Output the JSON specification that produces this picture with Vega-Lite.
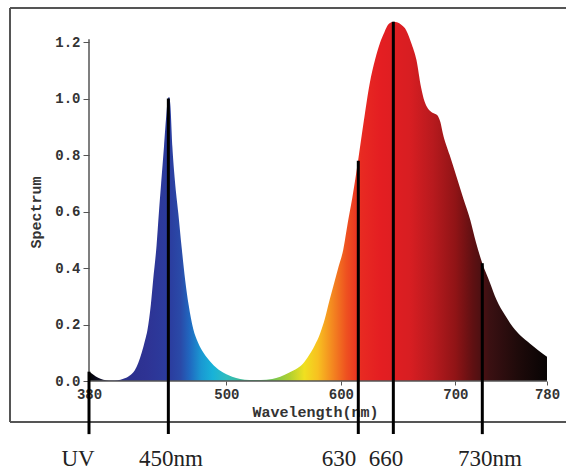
{
  "$schema": "https://vega.github.io/schema/vega-lite/v6.json",
  "width": 556,
  "height": 414,
  "autosize": "none",
  "padding": {"left": 10, "top": 8, "right": 1, "bottom": 48},
  "background": "white",
  "config": {"view": {"stroke": null}},
  "datasets": {
    "spectrum": [
      {"nm": 380, "v": 0.033}, {"nm": 383, "v": 0.025}, {"nm": 386, "v": 0.016}, {"nm": 390, "v": 0.008},
      {"nm": 395, "v": 0.003}, {"nm": 400, "v": 0.002}, {"nm": 405, "v": 0.003}, {"nm": 410, "v": 0.008},
      {"nm": 415, "v": 0.018}, {"nm": 420, "v": 0.038}, {"nm": 423, "v": 0.064}, {"nm": 426, "v": 0.1},
      {"nm": 429, "v": 0.145}, {"nm": 431, "v": 0.18}, {"nm": 434, "v": 0.27}, {"nm": 436, "v": 0.357},
      {"nm": 439, "v": 0.48}, {"nm": 441, "v": 0.594}, {"nm": 443, "v": 0.7}, {"nm": 445.5, "v": 0.83},
      {"nm": 447.5, "v": 0.94}, {"nm": 449, "v": 1.0}, {"nm": 450, "v": 1.005}, {"nm": 451, "v": 0.98},
      {"nm": 452.8, "v": 0.83}, {"nm": 455, "v": 0.71}, {"nm": 458, "v": 0.594}, {"nm": 461, "v": 0.47},
      {"nm": 464, "v": 0.357}, {"nm": 467, "v": 0.27}, {"nm": 471, "v": 0.185}, {"nm": 475, "v": 0.138},
      {"nm": 480, "v": 0.1}, {"nm": 487, "v": 0.064}, {"nm": 495, "v": 0.035}, {"nm": 505, "v": 0.015},
      {"nm": 512, "v": 0.007}, {"nm": 520, "v": 0.004}, {"nm": 530, "v": 0.004},
      {"nm": 540, "v": 0.007}, {"nm": 547, "v": 0.015}, {"nm": 555, "v": 0.03}, {"nm": 562, "v": 0.045},
      {"nm": 567, "v": 0.062}, {"nm": 572, "v": 0.09}, {"nm": 577, "v": 0.125}, {"nm": 582, "v": 0.17},
      {"nm": 586, "v": 0.22}, {"nm": 590, "v": 0.285}, {"nm": 594, "v": 0.345}, {"nm": 598, "v": 0.405},
      {"nm": 602, "v": 0.464}, {"nm": 606, "v": 0.56}, {"nm": 610, "v": 0.65}, {"nm": 615, "v": 0.78},
      {"nm": 620, "v": 0.92}, {"nm": 625, "v": 1.05}, {"nm": 630, "v": 1.14}, {"nm": 634, "v": 1.195},
      {"nm": 638, "v": 1.235}, {"nm": 641, "v": 1.26}, {"nm": 644, "v": 1.27}, {"nm": 646, "v": 1.272},
      {"nm": 649, "v": 1.27}, {"nm": 653, "v": 1.26}, {"nm": 657, "v": 1.242}, {"nm": 662, "v": 1.19},
      {"nm": 666, "v": 1.136}, {"nm": 670, "v": 1.04}, {"nm": 673, "v": 0.99}, {"nm": 676, "v": 0.965},
      {"nm": 680, "v": 0.95}, {"nm": 684, "v": 0.942}, {"nm": 687, "v": 0.915}, {"nm": 689, "v": 0.877},
      {"nm": 695, "v": 0.8}, {"nm": 701, "v": 0.723}, {"nm": 707, "v": 0.645}, {"nm": 713, "v": 0.57},
      {"nm": 718, "v": 0.49}, {"nm": 723.5, "v": 0.417}, {"nm": 730, "v": 0.35}, {"nm": 736, "v": 0.287},
      {"nm": 743, "v": 0.235}, {"nm": 750, "v": 0.192}, {"nm": 757, "v": 0.16}, {"nm": 765, "v": 0.133},
      {"nm": 772, "v": 0.11}, {"nm": 780, "v": 0.086}
    ],
    "markers": [
      {"pos": 380, "top": 0.033, "label": "UV", "labelPos": 370.4},
      {"pos": 449.3, "top": 1.0, "label": "450nm", "labelPos": 451.6},
      {"pos": 615.2, "top": 0.78, "label": "630", "labelPos": 598.3},
      {"pos": 645.8, "top": 1.272, "label": "660", "labelPos": 639.4},
      {"pos": 723.5, "top": 0.417, "label": "730nm", "labelPos": 730.2}
    ],
    "one": [{"k": 1}]
  },
  "layer": [
    {
      "data": {"name": "spectrum"},
      "mark": {
        "type": "area",
        "interpolate": "monotone",
        "fill": {
          "gradient": "linear", "x1": 0, "y1": 0, "x2": 1, "y2": 0,
          "stops": [
            {"offset": 0, "color": "#000000"},
            {"offset": 0.0375, "color": "#1a1a40"},
            {"offset": 0.0625, "color": "#2a2f8a"},
            {"offset": 0.125, "color": "#2e3394"},
            {"offset": 0.175, "color": "#2b3c9e"},
            {"offset": 0.2, "color": "#2a4aa8"},
            {"offset": 0.22, "color": "#2068c0"},
            {"offset": 0.245, "color": "#1a98d2"},
            {"offset": 0.27, "color": "#18b2d8"},
            {"offset": 0.3, "color": "#30bcc0"},
            {"offset": 0.3375, "color": "#3cb890"},
            {"offset": 0.3875, "color": "#60c060"},
            {"offset": 0.4375, "color": "#b0d030"},
            {"offset": 0.47, "color": "#f0e020"},
            {"offset": 0.5, "color": "#f8c020"},
            {"offset": 0.53, "color": "#f48a20"},
            {"offset": 0.5625, "color": "#ee5020"},
            {"offset": 0.595, "color": "#e82a22"},
            {"offset": 0.6375, "color": "#e41e22"},
            {"offset": 0.7, "color": "#d81e22"},
            {"offset": 0.75, "color": "#b81a1e"},
            {"offset": 0.8, "color": "#901416"},
            {"offset": 0.8375, "color": "#601012"},
            {"offset": 0.875, "color": "#3a1012"},
            {"offset": 0.9375, "color": "#1e0a0a"},
            {"offset": 1, "color": "#080404"}
          ]
        }
      },
      "encoding": {
        "x": {
          "field": "nm", "type": "quantitative",
          "scale": {"domain": [311.0, 796.6], "nice": false, "zero": false},
          "axis": {
            "values": [380, 500, 600, 700, 780],
            "offset": -41, "domain": false, "grid": false,
            "tickSize": 4, "tickColor": "#555",
            "labelFont": "Liberation Mono", "labelFontWeight": "bold", "labelFontSize": 14, "labelColor": "#333",
            "labelPadding": 2, "labelFlush": false, "labelOverlap": false,
            "title": "Wavelength(nm)",
            "titleFont": "Liberation Mono", "titleFontWeight": "bold", "titleFontSize": 15, "titleColor": "#333",
            "titleX": 305, "titleY": 30, "titleBaseline": "middle", "titleAlign": "center"
          }
        },
        "y": {
          "field": "v", "type": "quantitative",
          "scale": {"domain": [-0.1451, 1.3204], "nice": false, "zero": false},
          "axis": {
            "values": [0, 0.2, 0.4, 0.6, 0.8, 1.0, 1.2],
            "format": ".1f",
            "offset": -79, "domain": false, "grid": false,
            "tickSize": 6, "tickColor": "#555",
            "labelFont": "Liberation Mono", "labelFontWeight": "bold", "labelFontSize": 14, "labelColor": "#333",
            "labelPadding": 3,
            "title": "Spectrum",
            "titleFont": "Liberation Mono", "titleFontWeight": "bold", "titleFontSize": 15, "titleColor": "#333",
            "titleX": -54, "titleY": 204, "titleAngle": 270, "titleBaseline": "middle", "titleAlign": "center"
          }
        }
      }
    },
    {
      "data": {"name": "one"},
      "mark": {"type": "rule", "color": "#555", "strokeWidth": 1.5},
      "encoding": {"x": {"datum": 380, "type": "quantitative"}, "x2": {"datum": 780}, "y": {"datum": 0, "type": "quantitative"}}
    },
    {
      "data": {"name": "one"},
      "mark": {"type": "rule", "color": "#555", "strokeWidth": 1.5},
      "encoding": {"x": {"datum": 380, "type": "quantitative"}, "y": {"datum": 0, "type": "quantitative"}, "y2": {"datum": 1.21}}
    },
    {
      "data": {"name": "one"},
      "mark": {"type": "rule", "color": "#555", "strokeWidth": 2},
      "encoding": {"y": {"datum": 1.3204, "type": "quantitative"}}
    },
    {
      "data": {"name": "one"},
      "mark": {"type": "rule", "color": "#555", "strokeWidth": 2},
      "encoding": {"y": {"datum": -0.1451, "type": "quantitative"}}
    },
    {
      "data": {"name": "one"},
      "mark": {"type": "rule", "color": "#555", "strokeWidth": 2},
      "encoding": {"x": {"datum": 311.0, "type": "quantitative"}}
    },
    {
      "data": {"name": "markers"},
      "mark": {"type": "rule", "color": "#000", "strokeWidth": 3},
      "encoding": {
        "x": {"field": "pos", "type": "quantitative"},
        "y": {"field": "top", "type": "quantitative"},
        "y2": {"datum": -0.188}
      }
    },
    {
      "data": {"name": "markers"},
      "mark": {"type": "text", "font": "Liberation Serif", "fontSize": 23, "color": "#222", "align": "center", "baseline": "alphabetic"},
      "encoding": {
        "x": {"field": "labelPos", "type": "quantitative"},
        "y": {"datum": -0.3, "type": "quantitative"},
        "text": {"field": "label"}
      }
    }
  ]
}
